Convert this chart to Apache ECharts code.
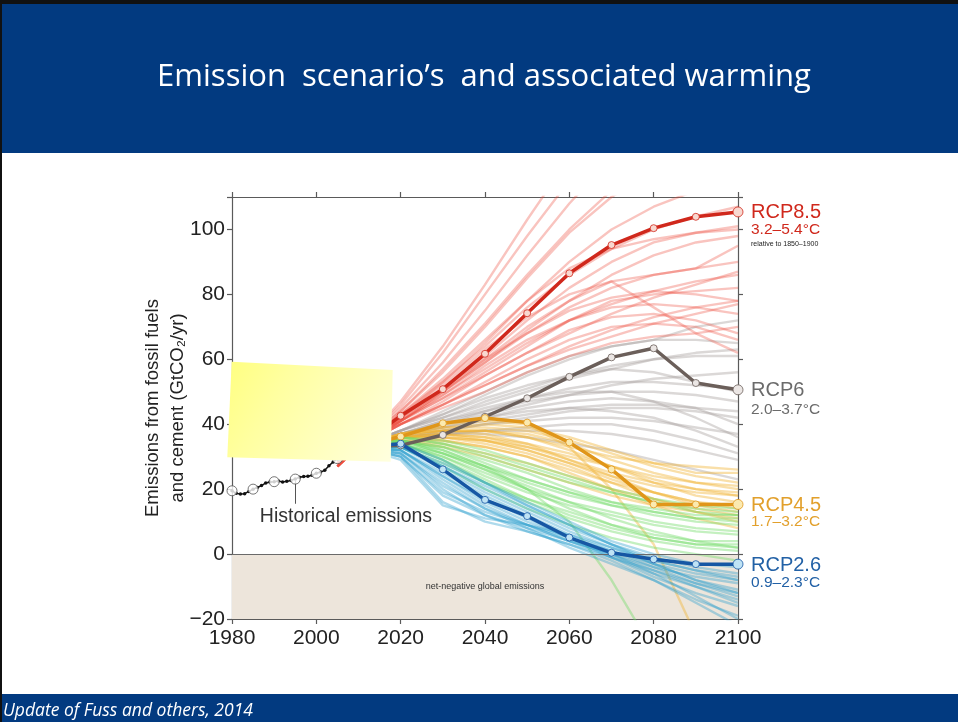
<!DOCTYPE html>
<html><head><meta charset="utf-8">
<script src="https://cdn.jsdelivr.net/npm/echarts@6/dist/echarts.min.js"></script>
<style>html,body{margin:0;padding:0;background:#fff;overflow:hidden}#c{width:958px;height:722px}</style>
</head><body><div id="c"></div>
<script>
// ---------- data ----------
const title = 'Emission  scenario’s  and associated warming';
const footer = 'Update of Fuss and others, 2014';
const xTicks = [1980, 2000, 2020, 2040, 2060, 2080, 2100];
const yTicks = [-20, 0, 20, 40, 60, 80, 100];

const histYears = [1980,1981,1982,1983,1984,1985,1986,1987,1988,1989,1990,1991,1992,1993,1994,1995,1996,1997,1998,1999,2000,2001,2002,2003,2004,2005,2006,2007,2008,2009,2010,2011,2012,2013,2014];
const histValues = [19.5,18.7,18.5,18.6,19.3,20.0,20.5,21.1,21.9,22.2,22.3,22.5,22.2,22.4,22.7,23.1,23.7,23.9,24.0,24.3,24.9,25.3,25.8,27.2,28.4,29.4,30.4,31.3,31.8,31.5,33.1,34.0,34.5,35.2,35.5];

const rcpYears = [2010,2020,2030,2040,2050,2060,2070,2080,2090,2100];
const rcp85 = [33,42.6,50.8,61.7,74.2,86.5,95.2,100.4,103.9,105.4];
const rcp6  = [33,33.5,36.7,42.3,48.0,54.6,60.6,63.4,52.7,50.6];
const rcp45 = [33,36.2,40.3,41.9,40.5,34.4,26.1,15.3,15.3,15.3];
const rcp26 = [33,34.0,26.1,16.7,11.7,5.1,0.4,-1.6,-3.1,-3.1];

const runYears = [2005,2010,2020,2030,2040,2050,2060,2070,2080,2090,2100];
const redRuns = [
  [27,33,46,62,80,98,115,130,140,145,150],
  [27,33,45,59,75,92,108,122,132,138,140],
  [28,33,44,56,70,85,99,110,118,122,125],
  [28,33,43,53,65,78,90,100,107,112,114],
  [28,33,42,51,61,72,82,90,96,99,101],
  [27,33,42,50,59,68,76,82,86,88,90],
  [28,33,41,48,56,64,72,78,80,81,82],
  [27,33,41,49,58,66,72,76,77,76,74],
  [28,33,40,47,55,62,69,73,74,72,68],
  [27,33,40,46,53,60,66,70,71,70,66],
  [28,33,41,50,60,70,78,84,76,68,62],
  [28,33,42,52,63,73,80,84,86,88,95],
  [27,33,40,45,50,56,61,65,67,68,70],
  [28,33,43,54,66,78,88,94,97,99,100],
  [27,33,41,49,57,65,72,77,81,84,86],
  [28,33,40,46,52,58,64,69,73,76,78],
  [27,33,44,57,71,86,100,112,120,126,130],
  [28,33,42,53,64,76,86,94,100,104,107],
  [27,33,41,50,59,69,78,86,92,96,98],
  [28,33,41,48,55,62,68,74,79,83,87],
  [27,33,40,46,52,58,63,67,71,74,77],
  [28,33,42,51,60,68,75,79,81,80,78],
  [27,33,47,64,83,103,122,140,150,155,160]
];
const grayRuns = [
  [29,33,38,42,46,50,54,57,60,62,63],
  [29,33,37,40,43,46,49,52,54,55,56],
  [29,33,38,43,48,52,55,57,56,53,50],
  [29,33,37,39,41,43,45,46,46,45,44],
  [29,33,36,38,40,41,42,42,41,39,37],
  [29,33,37,40,42,44,45,44,42,38,33],
  [29,33,36,37,38,38,38,37,35,32,29],
  [29,33,38,44,50,56,61,64,66,66,65],
  [29,33,37,41,45,48,50,50,47,42,36],
  [29,33,36,37,37,36,34,32,29,26,23],
  [29,33,38,43,49,55,60,64,66,70,72],
  [29,33,37,41,44,47,49,50,50,49,47],
  [29,33,37,40,44,48,51,53,53,52,51],
  [29,33,36,38,40,42,44,45,45,44,42],
  [29,33,38,42,47,51,55,58,60,61,61],
  [29,33,36,37,38,39,40,40,38,35,31],
  [29,33,37,39,42,45,47,48,47,45,40]
];
const orangeRuns = [
  [29,33,37,39,39,38,35,31,27,24,22],
  [29,33,36,37,36,34,31,27,23,20,18],
  [29,33,37,38,37,34,29,24,19,15,13],
  [29,33,36,35,33,30,26,22,19,16,14],
  [29,33,36,36,34,31,27,22,17,13,10],
  [29,33,37,39,40,39,36,32,28,25,25],
  [29,33,35,34,31,28,24,20,17,14,12],
  [29,33,36,37,36,33,29,25,22,20,19],
  [29,33,37,40,41,40,33,20,3,-25,-50],
  [29,33,36,36,35,32,28,24,21,19,18],
  [29,33,37,38,38,36,33,30,28,27,26],
  [29,33,35,35,33,30,25,20,15,11,8],
  [29,33,36,36,35,33,30,27,24,22,21],
  [29,33,37,38,38,36,32,27,22,18,16],
  [29,33,35,33,30,26,22,18,15,13,11],
  [29,33,36,37,35,32,28,23,19,16,15],
  [29,33,36,38,38,37,34,29,25,22,20]
];
const greenRuns = [
  [29,33,35,32,27,22,18,15,12,10,9],
  [29,33,34,30,24,19,15,12,9,7,6],
  [29,33,36,34,30,26,22,19,16,14,13],
  [29,33,35,31,26,21,16,11,7,4,2],
  [29,33,34,29,22,16,11,7,4,2,1],
  [29,33,36,35,32,28,24,20,17,15,14],
  [29,33,35,32,27,20,10,-8,-30,-50,-60],
  [29,33,33,27,20,14,9,5,2,0,-2],
  [29,33,35,33,29,25,20,16,13,11,10],
  [29,33,34,31,26,20,14,9,5,3,3],
  [29,33,35,33,28,23,19,15,13,11,11],
  [29,33,34,30,25,20,16,13,10,8,7],
  [29,33,35,31,27,23,19,16,14,12,12],
  [29,33,33,28,22,17,13,9,6,4,4],
  [29,33,36,34,31,27,23,19,16,13,12],
  [29,33,34,29,23,17,12,8,5,3,2]
];
const blueRuns = [
  [29,33,33,26,19,13,7,2,-2,-5,-7],
  [29,33,32,23,15,9,4,0,-4,-7,-9],
  [29,33,31,20,12,7,3,-1,-5,-9,-12],
  [29,33,33,27,20,14,8,3,-1,-4,-6],
  [29,33,30,18,12,8,4,0,-5,-10,-15],
  [29,33,32,24,16,10,5,0,-6,-13,-20],
  [29,33,29,15,11,9,6,2,-3,-8,-12],
  [29,33,33,28,22,16,10,4,0,-3,-4],
  [29,33,31,22,14,8,2,-3,-8,-14,-19],
  [29,33,34,29,22,15,9,3,-2,-5,-8],
  [29,33,30,16,10,7,3,-2,-8,-15,-22],
  [29,33,32,25,18,12,6,1,-3,-6,-8],
  [29,33,33,27,21,15,9,3,-3,-8,-11],
  [29,33,31,21,14,9,4,-1,-6,-10,-14],
  [29,33,32,24,17,11,5,-1,-7,-12,-16],
  [29,33,30,19,13,9,5,1,-4,-9,-13]
];

// ---------- chart ----------
const FONT = 'Liberation Sans, Arial, sans-serif';
const AX = '#5a5a5a';
const chart = echarts.init(document.getElementById('c'), null, {renderer: 'canvas'});

function pairs(xs, ys) { return xs.map((x, i) => [x, ys[i]]); }

const series = [];
series.push({
  type: 'line', data: [], silent: true, z: 1,
  markArea: {
    silent: true,
    itemStyle: {color: '#ede5db'},
    label: {show: true, position: 'inside', formatter: 'net-negative global emissions', color: '#333', fontSize: 9, fontFamily: FONT},
    data: [[{coord: [1980, -20]}, {coord: [2100, 0]}]]
  },
  markLine: {
    silent: true, symbol: 'none', label: {show: false},
    lineStyle: {color: '#6a6a6a', width: 1.2, type: 'solid'},
    data: [{yAxis: 0}]
  }
});

function addRuns(runs, color, op) {
  runs.forEach(r => series.push({
    type: 'line', data: pairs(runYears, r), showSymbol: false, silent: true, z: 2,
    lineStyle: {color: color, width: 2.4, opacity: op}
  }));
}
addRuns(grayRuns, '#aaa39f', 0.42);
addRuns(redRuns, '#ec4b3c', 0.33);
addRuns(orangeRuns, '#f0b232', 0.42);
addRuns(greenRuns, '#72dc6a', 0.42);
addRuns(blueRuns, '#2a9fcc', 0.38);

function addRcp(vals, color, fill) {
  series.push({
    type: 'line', data: pairs(rcpYears, vals), z: 5,
    symbol: 'circle', symbolSize: (v) => v[0] === 2100 ? 10 : 7,
    lineStyle: {color: color, width: 3.5},
    itemStyle: {color: fill, borderColor: color, borderWidth: 0.8}
  });
}
addRcp(rcp6, '#6b5f5a', '#ebe6e4');
addRcp(rcp45, '#e0961a', '#fbeab0');
addRcp(rcp26, '#1657a4', '#bfe3f5');
addRcp(rcp85, '#d0281c', '#f8d8d0');

series.push({
  type: 'line', data: pairs(histYears, histValues), z: 6,
  symbol: 'circle', symbolSize: 3.5,
  lineStyle: {color: '#111', width: 1.5},
  itemStyle: {color: '#111'},
  markLine: {
    silent: true, symbol: 'none', label: {show: false},
    lineStyle: {color: '#555', width: 1, type: 'solid'},
    data: [[{coord: [1995, 22.6]}, {coord: [1995, 15.5]}]]
  }
});
series.push({
  type: 'scatter', data: pairs(histYears, histValues).filter(p => p[0] % 5 === 0), z: 7,
  symbol: 'circle', symbolSize: 10,
  itemStyle: {color: '#fff', borderColor: '#555', borderWidth: 1}
});

const axisCommon = {
  axisLine: {show: true, onZero: false, lineStyle: {color: AX, width: 1.2}},
  axisTick: {show: true, inside: false, length: 5, lineStyle: {color: AX, width: 1.2}},
  splitLine: {show: false}
};

const option = {
  backgroundColor: '#fff',
  animation: false,
  grid: {left: 232, right: 220, top: 197, bottom: 103, containLabel: false},
  xAxis: [
    Object.assign({type: 'value', min: 1980, max: 2100, interval: 20, position: 'bottom',
      axisLabel: {color: '#222', fontSize: 21, fontFamily: FONT, margin: 9, formatter: v => String(v)}}, axisCommon),
    Object.assign({type: 'value', min: 1980, max: 2100, interval: 20, position: 'top',
      axisLabel: {show: false}}, axisCommon)
  ],
  yAxis: [
    Object.assign({type: 'value', min: -20, max: 110, interval: 20, position: 'left',
      axisLabel: {color: '#222', fontSize: 21, fontFamily: FONT, margin: 7,
        formatter: v => v < 0 ? '−' + Math.abs(v) : (v > 100 ? '' : String(v))},
      name: 'Emissions from fossil fuels\nand cement (GtCO₂/yr)', nameLocation: 'middle', nameGap: 42,
      nameRotate: 90, nameMoveOverlap: false,
      nameTextStyle: {color: '#222', fontSize: 18.5, fontFamily: FONT, lineHeight: 25}}, axisCommon),
    Object.assign({type: 'value', min: -20, max: 110, interval: 20, position: 'right',
      axisLabel: {show: false}}, axisCommon)
  ],
  series: series
};
chart.setOption(option);

// ---------- labels & slide decoration ----------
const g = [];
g.push({type: 'rect', shape: {x: 0, y: 0, width: 958, height: 153}, style: {fill: '#023a80'}, z: 100});
g.push({type: 'rect', shape: {x: 0, y: 0, width: 958, height: 4}, style: {fill: '#111'}, z: 101});
g.push({type: 'rect', shape: {x: 0, y: 0, width: 2, height: 722}, style: {fill: '#111'}, z: 101});
g.push({type: 'rect', shape: {x: 0, y: 694, width: 958, height: 28}, style: {fill: '#023a80'}, z: 100});
g.push({type: 'text', x: 484, y: 77, style: {text: title, fill: '#fff', font: '31px "Open Sans", Lato, sans-serif', align: 'center', verticalAlign: 'middle'}, z: 102});
g.push({type: 'text', x: 3, y: 711, style: {text: footer, fill: '#fff', font: 'italic 17.5px "Open Sans", Lato, sans-serif', align: 'left', verticalAlign: 'middle'}, z: 102});

function rcpLabel(vals, lines) {
  const p = chart.convertToPixel({xAxisIndex: 0, yAxisIndex: 0}, [2100, vals[vals.length - 1]]);
  let y = p[1] + 1;
  lines.forEach(l => {
    g.push({type: 'text', x: p[0] + 13, y: y, style: {text: l.t, fill: l.c, font: l.f, align: 'left', verticalAlign: 'middle'}, z: 50});
    y += l.h;
  });
}
rcpLabel(rcp85, [
  {t: 'RCP8.5', c: '#d0281c', f: '20px ' + FONT, h: 17},
  {t: '3.2–5.4°C', c: '#d0281c', f: '15.5px ' + FONT, h: 14},
  {t: 'relative to 1850–1900', c: '#222', f: '7px ' + FONT, h: 10}
]);
rcpLabel(rcp6, [
  {t: 'RCP6', c: '#6b6b6b', f: '20px ' + FONT, h: 19},
  {t: '2.0–3.7°C', c: '#6b6b6b', f: '15.5px ' + FONT, h: 14}
]);
rcpLabel(rcp45, [
  {t: 'RCP4.5', c: '#e2a02c', f: '20px ' + FONT, h: 16},
  {t: '1.7–3.2°C', c: '#e2a02c', f: '15.5px ' + FONT, h: 14}
]);
rcpLabel(rcp26, [
  {t: 'RCP2.6', c: '#2261a6', f: '20px ' + FONT, h: 18},
  {t: '0.9–2.3°C', c: '#2261a6', f: '15.5px ' + FONT, h: 14}
]);

const hp = chart.convertToPixel({xAxisIndex: 0, yAxisIndex: 0}, [1986.6, 11.4]);
g.push({type: 'text', x: hp[0], y: hp[1], style: {text: 'Historical emissions', fill: '#333', font: '19.5px ' + FONT, align: 'left', verticalAlign: 'middle'}, z: 50});

g.push({type: 'polygon', shape: {points: [[231.7, 361.7], [392.7, 370], [390.7, 461.7], [227.3, 457.3]]},
  style: {fill: new echarts.graphic.LinearGradient(0, 0, 1, 1, [
    {offset: 0, color: '#ffff80'}, {offset: 0.3, color: '#ffffa0'}, {offset: 1, color: '#ffffe0'}])}, z: 60});

chart.setOption({graphic: g});
</script>
</body></html>
